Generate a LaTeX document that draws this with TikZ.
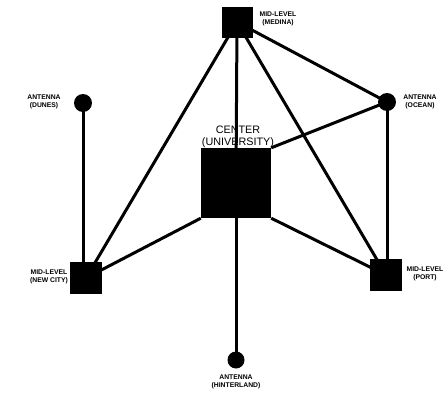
\documentclass[tikz,border=0pt]{standalone}
\usepackage{fontspec}
\setmainfont{Liberation Sans}
\begin{document}
\begin{tikzpicture}[x=1pt,y=-1pt,
  link/.style={line width=3pt},
  sq/.style={fill=black,draw=none,minimum size=#1,inner sep=0pt},
  dot/.style={circle,fill=black,draw=none,minimum size=18pt,inner sep=0pt},
  lbl/.style={font=\fontsize{6.8}{7.8}\selectfont\bfseries,align=center,inner sep=0pt},
  biglbl/.style={font=\fontsize{10.8}{12}\selectfont,align=center,inner sep=0pt}]
\useasboundingbox (0,0) rectangle (445,394);
% nodes
\node[sq=31pt] (medina) at (237,22) {};
\node[sq=70pt] (center) at (236,183) {};
\node[sq=32pt] (newcity) at (86,278) {};
\node[sq=32pt] (port) at (386,275) {};
\node[dot] (dunes) at (83,103) {};
\node[dot] (ocean) at (387,102) {};
\node[dot,minimum size=17pt] (hinter) at (236,360) {};
% labels
\node[lbl] (lmedina) at (278,19) {MID-LEVEL\\(MEDINA)};
\node[lbl] (ldunes) at (44,102) {ANTENNA\\(DUNES)};
\node[lbl] (locean) at (420,102) {ANTENNA\\(OCEAN)};
\node[biglbl] (lcenter) at (238,137) {CENTER\\(UNIVERSITY)};
\node[lbl] (lnewcity) at (49,277) {MID-LEVEL\\(NEW CITY)};
\node[lbl] (lport) at (425,274) {MID-LEVEL\\(PORT)};
\node[lbl] (lhinter) at (236,382) {ANTENNA\\(HINTERLAND)};
% connectors
\draw[link] (medina.center) -- (center.center);
\draw[link] (medina.center) -- (newcity.center);
\draw[link] (medina.center) -- (port.center);
\draw[link] (medina.center) -- (ocean.center);
\draw[link] (ocean.center) -- (center.north east);
\draw[link] (ocean.center) -- (ocean.center |- port.center);
\draw[link] (dunes.center) -- (dunes.center |- newcity.center);
\draw[link] (newcity.center) -- (center.south west);
\draw[link] (center.south east) -- (port.center);
\draw[link] (center.center) -- (hinter.center);
\end{tikzpicture}
\end{document}
